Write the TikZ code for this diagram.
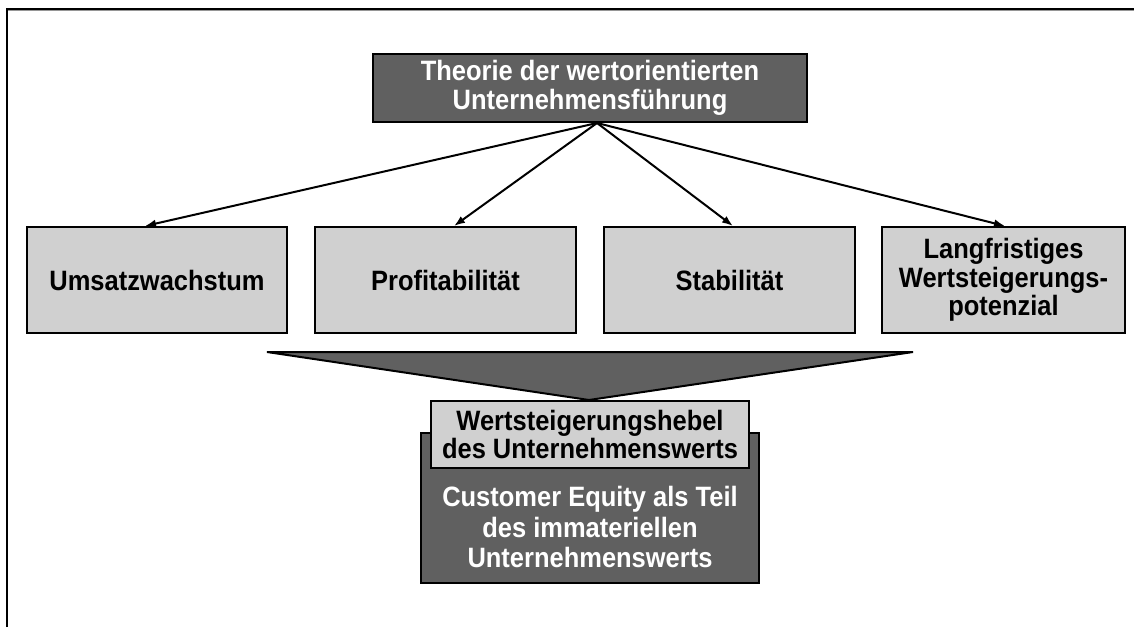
\documentclass[tikz,border=0pt]{standalone}
\usepackage{fontspec}
\setmainfont{Liberation Sans}
\newfontfamily\tallsans[FakeStretch=0.91]{Liberation Sans}
\usetikzlibrary{arrows.meta}
\definecolor{boxdark}{RGB}{96,96,96}
\definecolor{boxlight}{RGB}{208,208,208}
\definecolor{rulegray}{RGB}{150,150,150}

\begin{document}
\begin{tikzpicture}[x=1pt,y=-1pt,
  base/.style={draw=black, line width=2pt, align=center, inner sep=0pt,
    font=\tallsans\fontsize{28}{28.5}\selectfont\bfseries},
  darkbox/.style={base, fill=boxdark, text=white},
  lightbox/.style={base, fill=boxlight, text=black},
  boxtext/.style={align=center, inner sep=0pt,
    font=\tallsans\fontsize{28}{30.5}\selectfont\bfseries},
  link/.style={line width=2pt, -{Latex[length=11pt,width=8pt]}}]
\useasboundingbox (0,0) rectangle (1134,627);
\fill[white] (0,0) rectangle (1134,627);

% page frame (top and left rules)
\draw[rulegray, line width=1pt] (7,10.5) -- (1134,10.5);
\draw[black, line width=2pt] (6.5,627) -- (6.5,8.5) -- (1134,8.5);

% theory box
\node[darkbox, minimum width=434, minimum height=68] (theory) at (590,88)
  {Theorie der wertorientierten\\Unternehmensführung};
\coordinate (hub) at ([xshift=7pt]theory.south);

% value drivers
\node[lightbox, minimum width=260, minimum height=106] (umsatz) at (157,280) {Umsatzwachstum};
\node[lightbox, minimum width=261, minimum height=106] (profit) at (445.5,280) {Profitabilität};
\node[lightbox, minimum width=251, minimum height=106] (stabil) at (729.5,280) {Stabilität};
\node[lightbox, minimum width=243, minimum height=106] (potenzial) at (1003.5,280)
  {\fontsize{28}{30.5}\selectfont Langfristiges\\Wertsteigerungs-\\potenzial};

% connectors
\draw[link] (hub) -- ([xshift=-12pt]umsatz.north);
\draw[link] (hub) -- ([xshift=8.5pt]profit.north);
\draw[link] (hub) -- ([xshift=3.5pt]stabil.north);
\draw[link] (hub) -- ([xshift=1.5pt]potenzial.north);

% funnel
\coordinate (funL) at (267,352);
\coordinate (funR) at (913,352);
\coordinate (funT) at (589,400);
\draw[fill=boxdark, line width=2pt, line join=miter] (funL) -- (funR) -- (funT) -- cycle;

% customer equity box with value lever on top
\node[darkbox, minimum width=338, minimum height=150] (equity) at (590,508) {};
\node[boxtext, text=white] (equitytext) at (590,527)
  {Customer Equity als Teil\\des immateriellen\\Unternehmenswerts};
\node[lightbox, minimum width=318, minimum height=67] (hebel) at (590,434.5)
  {Wertsteigerungshebel\\des Unternehmenswerts};
\end{tikzpicture}
\end{document}
